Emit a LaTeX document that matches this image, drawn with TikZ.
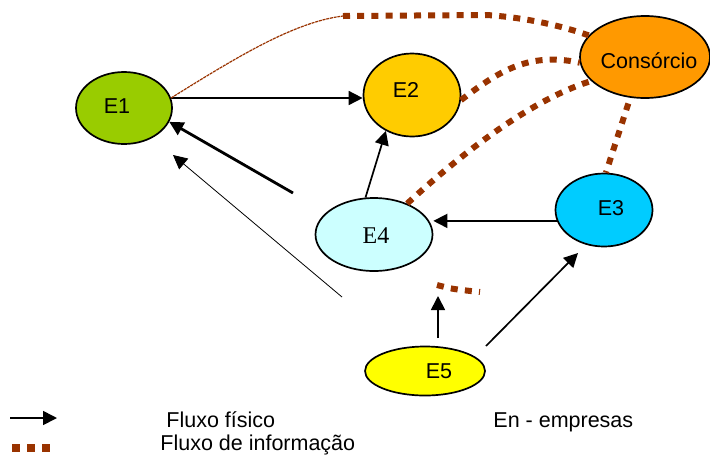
\documentclass[tikz,border=0pt]{standalone}
\usepackage{fontspec}
\setmainfont{Liberation Sans}
\newfontfamily\serifE{Liberation Serif}
\usepackage{xcolor}
\usetikzlibrary{arrows.meta,shapes.geometric}
\definecolor{infobrown}{RGB}{153,51,0}
\definecolor{verdeE}{RGB}{153,204,0}
\definecolor{amareloE}{RGB}{255,204,0}
\definecolor{laranjaE}{RGB}{255,153,0}
\definecolor{azulE}{RGB}{0,204,255}
\definecolor{cianoE}{RGB}{204,255,255}
\definecolor{limaE}{RGB}{255,255,0}

\begin{document}
\begin{tikzpicture}[x=0.5pt,y=-0.5pt,
    empresa/.style={draw,ellipse,line width=0.85pt,inner sep=0pt},
    fisico/.style={line width=0.85pt,-{Triangle[length=7pt,width=7pt]}},
    info/.style={infobrown,line width=3pt,dash pattern=on 3.5pt off 3.6pt},
    rotulo/.style={font=\fontsize{10.75}{13}\selectfont,inner sep=0pt,anchor=base}]
 \useasboundingbox (0,0) rectangle (710,456);

 % Empresas
 \node[empresa,fill=verdeE,minimum width=48pt,minimum height=36pt] (E1) at (124,108) {};
 \node[empresa,fill=amareloE,minimum width=48.5pt,minimum height=41.5pt] (E2) at (412,95) {};
 \node[empresa,fill=laranjaE,minimum width=65pt,minimum height=41pt] (cons) at (645,57) {};
 \node[empresa,fill=azulE,minimum width=48.5pt,minimum height=36.5pt] (E3) at (604,210) {};
 \node[empresa,fill=cianoE,minimum width=58.5pt,minimum height=36.5pt] (E4) at (374,234.5) {};
 \node[empresa,fill=limaE,minimum width=60pt,minimum height=24.5pt] (E5) at (425,371) {};

 \node[rotulo] (tE1) at (117,113) {E1};
 \node[rotulo] (tE2) at (406,97) {E2};
 \node[rotulo] (tcons) at (649,68) {Consórcio};
 \node[rotulo] (tE3) at (611,215) {E3};
 \node[rotulo,font=\serifE\fontsize{12}{14}\selectfont] (tE4) at (376,243) {E4};
 \node[rotulo] (tE5) at (439,378) {E5};

 % Fluxo fisico
 \coordinate (a1) at (293,193);
 \coordinate (a2) at (342,297);
 \coordinate (a3) at (173,155);
 \coordinate (a4) at (438,338);
 \coordinate (a5) at (438,296);
 \coordinate (a6) at (486,346);
 \coordinate (a7) at (578,253);
 \draw[fisico] (E1.12) -- (E1.12 -| E2.west);
 \draw[fisico,line width=1.4pt] (a1) -- (E1.-17);
 \draw[fisico,line width=0.4pt] (a2) -- (a3);
 \draw[fisico] (E4.103) -- (E2.234);
 \draw[fisico] (E3.193) -- (E3.193 -| E4.east);
 \draw[fisico] (a4) -- (a5);
 \draw[fisico] (a6) -- (a7);

 % Fluxo de informacao
 \coordinate (b1) at (343,16);
 \coordinate (b2) at (487,15);
 \draw[infobrown,line width=0.6pt,dash pattern=on 1.5pt off 0.4pt] (E1.12) .. controls (240,55) and (295,22) .. (b1);
 \draw[info] (b1) -- (b2) .. controls (530,18) and (565,27) .. (cons.159);
 \draw[info] (E2.-6) .. controls (500,70) and (530,52) .. (cons.185);
 \draw[info] (E4.43) .. controls (460,155) and (530,100) .. (cons.204);
 \draw[info,shorten <=3pt] (cons.250) -- (E3.87);
 \coordinate (b3) at (437,285);
 \coordinate (b4) at (480,292);
 \draw[info] (b3) .. controls (452,289) .. (b4);

 % Legenda
 \coordinate (l1) at (10,418);
 \coordinate (l2) at (57,418);
 \coordinate (l3) at (12,448);
 \coordinate (l4) at (51,448);
 \draw[fisico] (l1) -- (l2);
 \draw[infobrown,line width=4pt,dash pattern=on 4pt off 3.5pt] (l3) -- (l4);
 \node[rotulo,anchor=base west] (fis) at (166,427) {Fluxo físico};
 \node[rotulo,anchor=base west] (emp) at (493,427) {En - empresas};
 \node[rotulo,anchor=base west] (inf) at (160,450) {Fluxo de informação};
\end{tikzpicture}
\end{document}
